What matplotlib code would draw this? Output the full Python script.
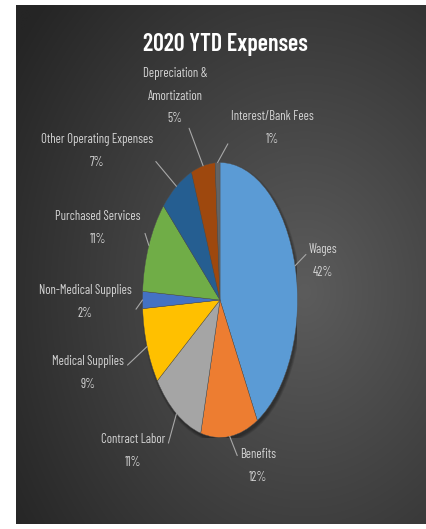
import numpy as np
import matplotlib
matplotlib.use("Agg")
import matplotlib.pyplot as plt
from matplotlib.patches import Ellipse

categories = ["Wages", "Benefits", "Contract Labor", "Medical Supplies",
              "Non-Medical Supplies", "Purchased Services",
              "Other Operating Expenses", "Depreciation &\nAmortization",
              "Interest/Bank Fees"]
values = [42, 12, 11, 9, 2, 11, 7, 5, 1]
colors = ["#5B9BD5", "#ED7D31", "#A5A5A5", "#FFC000", "#4472C4",
          "#70AD47", "#255E91", "#9E480E", "#636363"]
title = "2020 YTD Expenses"

# label text centres in figure pixels (from top-left) and leader attach point (layout only)
label_pos = [(323, 261), (258, 466), (133, 451), (88, 373), (85, 302),
             (98, 228), (97, 151), (175, 96), (272, 128)]
rel_pos = [(-0.05, 0.72), (-0.05, 0.72), (1.05, 0.72), (1.05, 0.72), (1.05, 0.3),
           (1.05, 0.35), (1.0, 0.3), (0.6, 0.3), (0.0, 0.2)]

fam = ["Barlow Condensed", "Archivo Narrow", "Lato", "DejaVu Sans"]

W, H = 427, 529
fig = plt.figure(figsize=(W / 100, H / 100), dpi=100)
fig.patch.set_facecolor("white")

# background panel with radial gradient
bg = fig.add_axes([16 / W, 5 / H, (W - 16) / W, (H - 10) / H])
bg.set_axis_off()
yy, xx = np.mgrid[0:200, 0:200]
cx, cy = 140, 110
r = np.sqrt(((xx - cx) / 200) ** 2 + ((yy - cy) / 200) ** 2)
r = np.clip(r / 0.85, 0, 1)
c0 = np.array([0x5c, 0x5c, 0x5c]) / 255
c1 = np.array([0x25, 0x25, 0x25]) / 255
img = c0[None, None, :] * (1 - r[..., None]) + c1[None, None, :] * r[..., None]
bg.imshow(img, aspect="auto", extent=[0, 1, 0, 1], interpolation="bilinear")

# pie axes: ellipse stretched vertically
pcx, pcy, rx, ry = 220, 300, 77.5, 137.5
ax = fig.add_axes([(pcx - rx) / W, (H - pcy - ry) / H, 2 * rx / W, 2 * ry / H])
ax.set_axis_off()
# soft shadow
for k in range(4):
    ax.add_patch(Ellipse((0.02, -0.02), 2 + 0.02 * k, 2 + 0.012 * k,
                         facecolor="black", alpha=0.10, lw=0))
wedges, _ = ax.pie(values, colors=colors, startangle=90, counterclock=False,
                   radius=1, wedgeprops=dict(linewidth=0.3, edgecolor="#505050"))
ax.set_xlim(-1, 1)
ax.set_ylim(-1, 1)
ax.set_aspect("auto")

total = sum(values)
for w, name, v, (lx, ly), rp in zip(wedges, categories, values, label_pos, rel_pos):
    ang = np.deg2rad((w.theta1 + w.theta2) / 2)
    ex, ey = np.cos(ang), np.sin(ang)
    txt = f"{name}\n{round(100 * v / total)}%"
    ax.annotate(txt, xy=(ex, ey), xycoords="data",
                xytext=(lx, H - ly), textcoords="figure pixels",
                ha="center", va="center", fontsize=9.2, family=fam,
                color="#D4D4D4", linespacing=2.0,
                arrowprops=dict(arrowstyle="-", color="#A8A8A8", lw=0.8,
                                shrinkA=0, shrinkB=0, relpos=rp))

fig.text(225 / W, 1 - 45 / H, title, ha="center", va="center",
         fontsize=17.2, fontweight="semibold", family=fam, color="white")

fig.savefig("out.png", dpi=100, facecolor=fig.get_facecolor())
